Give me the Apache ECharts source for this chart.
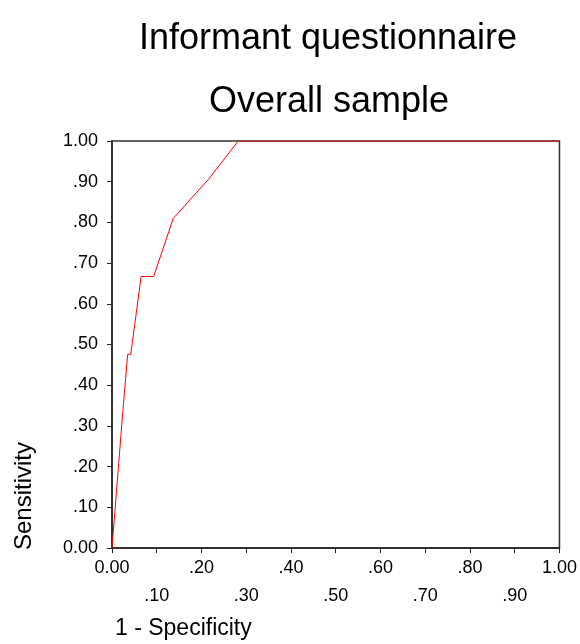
<!DOCTYPE html>
<html>
<head>
<meta charset="utf-8">
<script src="https://cdn.jsdelivr.net/npm/echarts@6/dist/echarts.min.js"></script>
<style>html,body{margin:0;padding:0;background:#fff}#c{width:580px;height:644px}</style>
</head>
<body>
<div id="c"></div>
<script>
const titleText = 'Informant questionnaire';
const subtitleText = 'Overall sample';
const xAxisTitle = '1 - Specificity';
const yAxisTitle = 'Sensitivity';
const fpr = [0, 0.024, 0.035, 0.042, 0.065, 0.093, 0.137, 0.215, 0.282, 1.0];
const tpr = [0, 0.333, 0.476, 0.476, 0.667, 0.667, 0.810, 0.905, 1.0, 1.0];

function fmt(v) {
  const r = Math.round(v * 100);
  if (r === 0) return '0.00';
  if (r === 100) return '1.00';
  return '.' + String(r).padStart(2, '0');
}

const chart = echarts.init(document.getElementById('c'), null, {renderer: 'canvas'});
const font = 'Liberation Sans, Arial, sans-serif';
chart.setOption({
  animation: false,
  backgroundColor: '#fff',
  title: [
    {text: titleText, left: 323, top: 16, textAlign: 'center',
     textStyle: {fontFamily: font, fontSize: 36, fontWeight: 'normal', color: '#000'}},
    {text: subtitleText, left: 324, top: 79, textAlign: 'center',
     textStyle: {fontFamily: font, fontSize: 36, fontWeight: 'normal', color: '#000'}}
  ],
  grid: {left: 112, right: 20, top: 141, bottom: 96, show: true, borderColor: '#333', borderWidth: 1.5, backgroundColor: 'transparent'},
  xAxis: {
    type: 'value', min: 0, max: 1, interval: 0.1,
    axisLine: {show: true, lineStyle: {color: '#222', width: 1.5}},
    axisTick: {show: true, length: 5, lineStyle: {color: '#222', width: 1}},
    splitLine: {show: false},
    axisLabel: {
      margin: 6, lineHeight: 28, fontSize: 18, fontFamily: font, color: '#000',
      formatter: function (v) {
        const k = Math.round(v * 10);
        return (k % 2 === 1) ? '\n' + fmt(v) : fmt(v);
      }
    }
  },
  yAxis: {
    type: 'value', min: 0, max: 1, interval: 0.1,
    axisLine: {show: true, lineStyle: {color: '#222', width: 1.5}},
    axisTick: {show: true, length: 5, lineStyle: {color: '#222', width: 1}},
    splitLine: {show: false},
    axisLabel: {margin: 14, fontSize: 18, fontFamily: font, color: '#000', formatter: fmt}
  },
  graphic: [
    {type: 'text', left: 115, top: 617,
     style: {text: xAxisTitle, font: '23px ' + font, fill: '#000'}},
    {type: 'text', x: 12, y: 550, rotation: Math.PI / 2,
     style: {text: yAxisTitle, font: '24px ' + font, fill: '#000', textAlign: 'left', textVerticalAlign: 'top'}}
  ],
  series: [{
    type: 'line', symbol: 'none',
    data: fpr.map((x, i) => [x, tpr[i]]),
    lineStyle: {color: '#ff0000', width: 1},
    silent: true
  }]
});
</script>
</body>
</html>
